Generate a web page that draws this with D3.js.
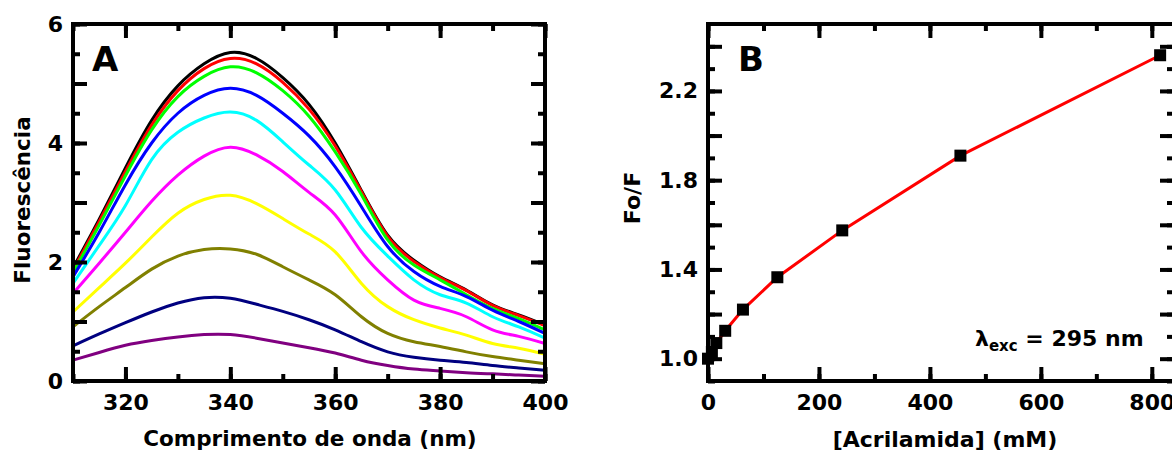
<!DOCTYPE html>
<html>
<head>
<meta charset="utf-8">
<script src="https://cdn.jsdelivr.net/npm/d3@7"></script>
<style>
  body { margin: 0; background: #fff; }
  svg text { font-family: "DejaVu Sans", sans-serif; font-weight: bold; fill: #000; }
</style>
</head>
<body>
<svg id="chart" width="1172" height="455"></svg>
<script>
// Panel A: fluorescence spectra (one series per acrylamide concentration)
const wavelengths = [310, 315, 320, 325, 330, 335, 340, 345, 350, 355, 360, 365, 370, 375, 380, 385, 390, 395, 400];
const fBlack   = [1.90, 2.72, 3.58, 4.38, 4.96, 5.33, 5.52, 5.42, 5.10, 4.65, 4.00, 3.20, 2.45, 2.03, 1.75, 1.53, 1.28, 1.11, 0.94];
const fRed     = [1.86, 2.68, 3.52, 4.30, 4.88, 5.25, 5.42, 5.33, 5.02, 4.57, 3.95, 3.18, 2.43, 2.01, 1.74, 1.52, 1.27, 1.10, 0.93];
const fGreen   = [1.82, 2.62, 3.45, 4.22, 4.78, 5.12, 5.28, 5.18, 4.88, 4.45, 3.85, 3.13, 2.37, 1.95, 1.70, 1.45, 1.22, 1.05, 0.86];
const fBlue    = [1.75, 2.50, 3.30, 4.00, 4.50, 4.80, 4.92, 4.80, 4.50, 4.12, 3.60, 2.93, 2.26, 1.84, 1.59, 1.42, 1.19, 1.00, 0.80];
const fCyan    = [1.64, 2.28, 2.95, 3.72, 4.18, 4.42, 4.52, 4.38, 4.02, 3.63, 3.21, 2.58, 2.10, 1.70, 1.45, 1.31, 1.08, 0.91, 0.72];
const fMagenta = [1.47, 1.98, 2.50, 3.02, 3.46, 3.78, 3.93, 3.80, 3.52, 3.17, 2.79, 2.17, 1.70, 1.36, 1.22, 1.08, 0.86, 0.75, 0.63];
const fYellow  = [1.16, 1.57, 1.98, 2.42, 2.82, 3.05, 3.12, 2.98, 2.73, 2.47, 2.17, 1.64, 1.25, 1.03, 0.89, 0.77, 0.63, 0.55, 0.45];
const fOlive   = [0.91, 1.25, 1.57, 1.88, 2.10, 2.21, 2.22, 2.13, 1.92, 1.70, 1.45, 1.08, 0.80, 0.66, 0.58, 0.49, 0.41, 0.35, 0.29];
const fNavy    = [0.59, 0.79, 0.98, 1.16, 1.31, 1.40, 1.39, 1.29, 1.17, 1.03, 0.86, 0.66, 0.49, 0.40, 0.35, 0.31, 0.26, 0.22, 0.18];
const fPurple  = [0.35, 0.48, 0.60, 0.68, 0.74, 0.78, 0.78, 0.72, 0.64, 0.56, 0.47, 0.35, 0.26, 0.20, 0.17, 0.14, 0.12, 0.10, 0.08];
const spectra = [fBlack, fRed, fGreen, fBlue, fCyan, fMagenta, fYellow, fOlive, fNavy, fPurple];
const spectraColors = ['#000000', '#ff0000', '#00ff00', '#0000ff', '#00ffff', '#ff00ff', '#ffff00', '#808000', '#000080', '#800080'];

// Panel B: Stern-Volmer plot
const acrylamide = [0, 7, 15, 31, 63, 125, 242, 455, 815];
const foF = [1.0, 1.03, 1.07, 1.125, 1.22, 1.365, 1.575, 1.91, 2.36];

const svg = d3.select('#chart');

function frame(g, x, y, opts) {
  const [x0, x1] = x.range();
  const [y0, y1] = y.range();
  // minor + major ticks on all four sides, pointing inward
  const sides = [
    d3.axisBottom(x).tickSizeOuter(0), d3.axisTop(x).tickSizeOuter(0),
    d3.axisLeft(y).tickSizeOuter(0), d3.axisRight(y).tickSizeOuter(0)
  ];
  const shifts = [`translate(0,${y0})`, `translate(0,${y1})`, `translate(${x0},0)`, `translate(${x1},0)`];
  sides.forEach((axis, i) => {
    const isX = i < 2;
    [[isX ? opts.xMinor : opts.yMinor, 7], [isX ? opts.xMajor : opts.yMajor, 14]].forEach(([vals, len]) => {
      g.append('g').attr('transform', shifts[i])
        .call(axis.tickValues(vals).tickSize(-len).tickFormat(''))
        .call(a => a.select('.domain').remove())
        .selectAll('line').attr('stroke', '#000').attr('stroke-width', 4);
    });
  });
  g.append('rect')
    .attr('x', x0).attr('y', y1)
    .attr('width', x1 - x0).attr('height', y0 - y1)
    .attr('fill', 'none').attr('stroke', '#000').attr('stroke-width', 4);

  // tick labels
  g.append('g').attr('transform', `translate(0,${y0})`)
    .call(d3.axisBottom(x).tickValues(opts.xLabels).tickSize(0).tickPadding(13).tickFormat(opts.xFormat))
    .call(a => a.select('.domain').remove())
    .selectAll('text').style('font-size', '22px').style('font-family', '"DejaVu Sans", sans-serif').style('font-weight', 'bold');
  g.append('g').attr('transform', `translate(${x0},0)`)
    .call(d3.axisLeft(y).tickValues(opts.yLabels).tickSize(0).tickPadding(10).tickFormat(opts.yFormat))
    .call(a => a.select('.domain').remove())
    .selectAll('text').style('font-size', '22px').style('font-family', '"DejaVu Sans", sans-serif').style('font-weight', 'bold');
}

// ---------- Panel A ----------
const xA = d3.scaleLinear().domain([310, 400]).range([73, 545]);
const yA = d3.scaleLinear().domain([0, 6]).range([381, 24]);
const gA = svg.append('g');

const lineA = d3.line().curve(d3.curveNatural)
  .x((d, i) => xA(wavelengths[i]))
  .y(d => yA(d));

gA.selectAll('path.spec')
  .data(spectra)
  .join('path')
  .attr('class', 'spec')
  .attr('d', lineA)
  .attr('fill', 'none')
  .attr('stroke', (d, i) => spectraColors[i])
  .attr('stroke-width', 3);

frame(gA, xA, yA, {
  xMinor: d3.range(310, 401, 10), xMajor: d3.range(320, 401, 20), xLabels: d3.range(320, 401, 20), xFormat: d3.format('d'),
  yMinor: d3.range(0, 6.01, 0.5), yMajor: d3.range(0, 7, 1), yLabels: [0, 2, 4, 6], yFormat: d3.format('d')
});

gA.append('text').attr('x', 92).attr('y', 71).style('font-size', '34px').text('A');
gA.append('text').attr('x', 310).attr('y', 446).attr('text-anchor', 'middle').style('font-size', '21.5px')
  .text('Comprimento de onda (nm)');
gA.append('text').attr('transform', 'translate(30,200) rotate(-90)').attr('text-anchor', 'middle').style('font-size', '21.5px')
  .text('Fluorescência');

// ---------- Panel B ----------
const xB = d3.scaleLinear().domain([0, 840]).range([708, 1174]);
const yB = d3.scaleLinear().domain([0.9, 2.5]).range([381, 24]);
const gB = svg.append('g');

frame(gB, xB, yB, {
  xMinor: d3.range(0, 801, 100), xMajor: d3.range(0, 801, 200), xLabels: d3.range(0, 801, 200), xFormat: d3.format('d'),
  yMinor: d3.range(9, 25, 1).map(v => v / 10), yMajor: d3.range(10, 25, 2).map(v => v / 10),
  yLabels: [1.0, 1.4, 1.8, 2.2], yFormat: d3.format('.1f')
});

const ptsB = acrylamide.map((c, i) => [c, foF[i]]);
gB.append('path')
  .datum(ptsB)
  .attr('d', d3.line().x(d => xB(d[0])).y(d => yB(d[1])))
  .attr('fill', 'none').attr('stroke', '#ff0000').attr('stroke-width', 3);

gB.selectAll('rect.pt')
  .data(ptsB)
  .join('rect')
  .attr('class', 'pt')
  .attr('x', d => xB(d[0]) - 6).attr('y', d => yB(d[1]) - 6)
  .attr('width', 12).attr('height', 12)
  .attr('fill', '#000');

gB.append('text').attr('x', 738).attr('y', 71).style('font-size', '34px').text('B');
gB.append('text').attr('x', 945).attr('y', 447).attr('text-anchor', 'middle').style('font-size', '22px')
  .text('[Acrilamida] (mM)');
gB.append('text').attr('transform', 'translate(640,198) rotate(-90)').attr('text-anchor', 'middle').style('font-size', '22px')
  .text('Fo/F');

const lam = gB.append('text').attr('x', 975).attr('y', 346).style('font-size', '22px');
lam.append('tspan').text('λ');
lam.append('tspan').attr('dy', 5).style('font-size', '15px').text('exc');
lam.append('tspan').attr('dy', -5).text(' = 295 nm');
</script>
</body>
</html>
